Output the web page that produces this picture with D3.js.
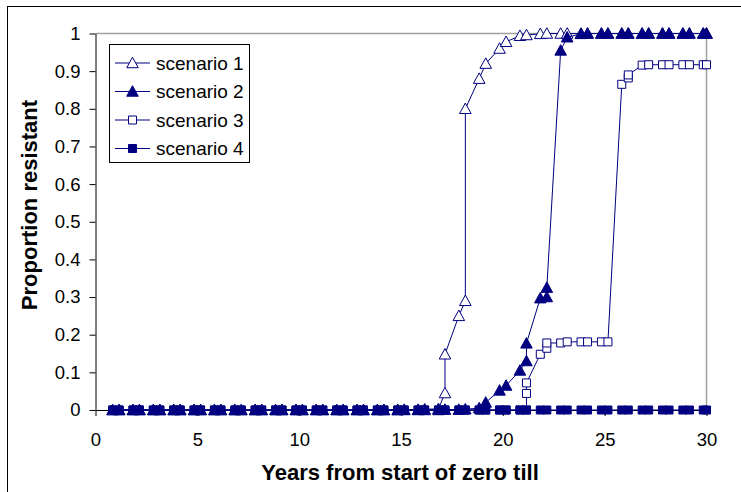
<!DOCTYPE html>
<html>
<head>
<meta charset="utf-8">
<script src="https://cdnjs.cloudflare.com/ajax/libs/d3/7.8.5/d3.min.js"></script>
<style>
  html, body { margin: 0; padding: 0; background: #fff; }
  svg { display: block; font-family: "Liberation Sans", Arial, sans-serif; }
</style>
</head>
<body>
<svg id="chart" width="741" height="492"></svg>
<script>
// ---- data ----
const seriesNames = ["scenario 1", "scenario 2", "scenario 3", "scenario 4"];

const s1x = [0.84,1.16,1.84,2.16,2.84,3.16,3.84,4.16,4.84,5.16,5.84,6.16,6.84,7.16,7.84,8.16,8.84,9.16,9.84,10.16,10.84,11.16,11.84,12.16,12.84,13.16,13.84,14.16,14.84,15.16,15.84,16.16,16.84,17.16,17.16,17.84,18.16,18.16,18.84,19.16,19.84,20.16,20.84,21.16,21.84,22.16,22.84,23.16,23.84,24.16,24.84,25.16,25.84,26.16,26.84,27.16,27.84,28.16,28.84,29.16,29.84,30];
const s1y = [0,0,0,0,0,0,0,0,0,0,0,0,0,0,0,0,0,0,0,0,0,0,0,0,0,0,0,0,0,0.001,0.001,0.002,0.003,0.045,0.148,0.25,0.29,0.80,0.88,0.92,0.96,0.978,0.994,0.996,0.999,1,1,1,1,1,1,1,1,1,1,1,1,1,1,1,1,1];

const s2x = [0.84,1.16,1.84,2.16,2.84,3.16,3.84,4.16,4.84,5.16,5.84,6.16,6.84,7.16,7.84,8.16,8.84,9.16,9.84,10.16,10.84,11.16,11.84,12.16,12.84,13.16,13.84,14.16,14.84,15.16,15.84,16.16,16.84,17.16,17.84,18.16,18.84,19.16,19.84,20.16,20.84,21.16,21.16,21.84,22.16,22.16,22.84,23.16,23.84,24.16,24.84,25.16,25.84,26.16,26.84,27.16,27.84,28.16,28.84,29.16,29.84,30];
const s2y = [0,0,0,0,0,0,0,0,0,0,0,0,0,0,0,0,0,0,0,0,0,0,0,0,0,0,0,0,0,0,0,0,0,0.001,0.001,0.002,0.005,0.02,0.052,0.065,0.105,0.13,0.177,0.297,0.30,0.325,0.955,0.99,0.999,1,1,1,1,1,1,1,1,1,1,1,1,1];

const s3x = [0.84,1.16,1.84,2.16,2.84,3.16,3.84,4.16,4.84,5.16,5.84,6.16,6.84,7.16,7.84,8.16,8.84,9.16,9.84,10.16,10.84,11.16,11.84,12.16,12.84,13.16,13.84,14.16,14.84,15.16,15.84,16.16,16.84,17.16,17.84,18.16,18.84,19.16,19.84,20.16,20.84,21.16,21.16,21.16,21.84,22.16,22.16,22.84,23.16,23.84,24.16,24.84,25.16,25.84,26.16,26.16,26.84,27.16,27.84,28.16,28.84,29.16,29.84,30];
const s3y = [0,0,0,0,0,0,0,0,0,0,0,0,0,0,0,0,0,0,0,0,0,0,0,0,0,0,0,0,0,0,0,0,0,0,0,0,0,0,0,0,0,0,0.044,0.072,0.148,0.164,0.178,0.178,0.181,0.181,0.181,0.181,0.181,0.865,0.882,0.89,0.916,0.917,0.917,0.917,0.917,0.917,0.917,0.917];

const s4x = [0.84,1.16,1.84,2.16,2.84,3.16,3.84,4.16,4.84,5.16,5.84,6.16,6.84,7.16,7.84,8.16,8.84,9.16,9.84,10.16,10.84,11.16,11.84,12.16,12.84,13.16,13.84,14.16,14.84,15.16,15.84,16.16,16.84,17.16,17.84,18.16,18.84,19.16,19.84,20.16,20.84,21.16,21.84,22.16,22.84,23.16,23.84,24.16,24.84,25.16,25.84,26.16,26.84,27.16,27.84,28.16,28.84,29.16,29.84,30];
const s4y = [0,0,0,0,0,0,0,0,0,0,0,0,0,0,0,0,0,0,0,0,0,0,0,0,0,0,0,0,0,0,0,0,0,0,0,0,0,0,0,0,0,0,0,0,0,0,0,0,0,0,0,0,0,0,0,0,0,0,0,0];

const xTicks = [0, 5, 10, 15, 20, 25, 30];
const yTicks = [0, 0.1, 0.2, 0.3, 0.4, 0.5, 0.6, 0.7, 0.8, 0.9, 1];
const xTitle = "Years from start of zero till";
const yTitle = "Proportion resistant";

// ---- layout ----
const svg = d3.select("#chart");
const navy = "#000080";
const mL = 95.5, mR = 706.5, mT = 33.5, mB = 410;
const x = d3.scaleLinear().domain([0, 30]).range([mL, mR]);
const y = d3.scaleLinear().domain([0, 1]).range([mB, mT]);

// outer frame (cropped at right/bottom)
svg.append("rect").attr("x", 7.5).attr("y", 6.5).attr("width", 900).attr("height", 700)
  .attr("fill", "#fff").attr("stroke", "#000").attr("stroke-width", 1);

// plot area border (gray top and right)
svg.append("path")
  .attr("d", `M${mL},${mT}H${mR}V${mB}`)
  .attr("fill", "none").attr("stroke", "#a0a0a0").attr("stroke-width", 1.5);

// axes
const xAxis = d3.axisBottom(x).tickValues(xTicks).tickSize(6).tickSizeOuter(0).tickFormat(d3.format("d"));
const yAxis = d3.axisLeft(y).tickValues(yTicks).tickSize(6).tickSizeOuter(0).tickFormat(d => d === 0 || d === 1 ? String(d) : d3.format(".1f")(d));

const gx = svg.append("g").attr("transform", `translate(0,${mB})`).call(xAxis);
const gy = svg.append("g").attr("transform", `translate(${mL},0)`).call(yAxis);
[gx, gy].forEach(g => {
  g.select(".domain").attr("stroke", "#000").attr("stroke-width", 1);
  g.selectAll(".tick line").attr("stroke", "#000");
  g.selectAll(".tick text").attr("fill", "#000").style("font-size", "18.5px")
    .style("font-family", "'Liberation Sans', Arial, sans-serif");
});
gx.selectAll(".tick text").attr("dy", "0.71em").attr("y", 23);
gy.selectAll(".tick text").attr("x", -15);

// titles
svg.append("text").attr("x", 400).attr("y", 480).attr("text-anchor", "middle")
  .style("font-size", "22px").style("font-weight", "bold").text(xTitle);
svg.append("text").attr("transform", "translate(37,205) rotate(-90)").attr("text-anchor", "middle")
  .style("font-size", "22px").style("font-weight", "bold").text(yTitle);

// marker shapes
function triPath(s) { return `M0,${-s * 0.55}L${s * 0.55},${s * 0.45}L${-s * 0.55},${s * 0.45}Z`; }
function sqPath(s) { const h = s / 2; return `M${-h},${-h}H${h}V${h}H${-h}Z`; }

const series = [
  { name: seriesNames[0], xs: s1x, ys: s1y, shape: triPath(10.5), fill: "#fff" },
  { name: seriesNames[1], xs: s2x, ys: s2y, shape: triPath(10.5), fill: navy },
  { name: seriesNames[2], xs: s3x, ys: s3y, shape: sqPath(8), fill: "#fff" },
  { name: seriesNames[3], xs: s4x, ys: s4y, shape: sqPath(8), fill: navy }
];

const line = d3.line().x(d => x(d[0])).y(d => y(d[1]));

series.forEach(s => {
  const pts = s.xs.map((v, i) => [v, s.ys[i]]);
  const g = svg.append("g");
  g.append("path").attr("d", line(pts)).attr("fill", "none").attr("stroke", navy).attr("stroke-width", 1);
  g.selectAll("path.m").data(pts).enter().append("path").attr("class", "m")
    .attr("d", s.shape)
    .attr("transform", d => `translate(${x(d[0])},${y(d[1])})`)
    .attr("fill", s.fill).attr("stroke", navy).attr("stroke-width", 1);
});

// legend
const lg = svg.append("g");
lg.append("rect").attr("x", 109.5).attr("y", 44.5).attr("width", 140).attr("height", 118)
  .attr("fill", "#fff").attr("stroke", "#000").attr("stroke-width", 1);
const legendY = [63, 91.5, 120, 148.5];
series.forEach((s, i) => {
  const ly = legendY[i];
  lg.append("line").attr("x1", 115).attr("x2", 150).attr("y1", ly).attr("y2", ly)
    .attr("stroke", navy).attr("stroke-width", 1);
  lg.append("path").attr("d", s.shape).attr("transform", `translate(132.5,${ly})`)
    .attr("fill", s.fill).attr("stroke", navy).attr("stroke-width", 1);
  lg.append("text").attr("x", 156).attr("y", ly).attr("dy", "0.35em")
    .style("font-size", "19px").attr("fill", "#000").text(s.name);
});
</script>
</body>
</html>
